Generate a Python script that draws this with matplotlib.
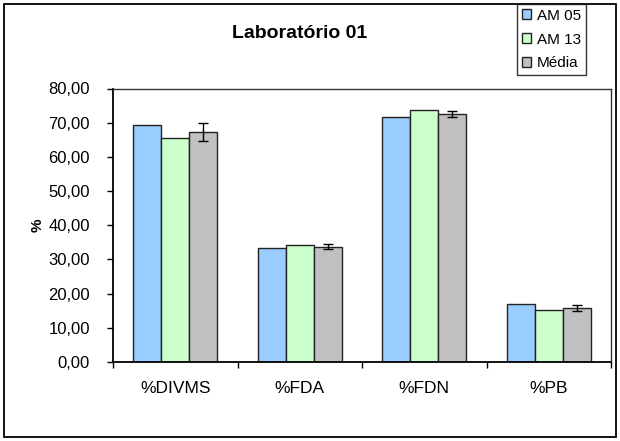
import numpy as np
import matplotlib
matplotlib.use("Agg")
import matplotlib.pyplot as plt
from matplotlib.ticker import FuncFormatter, MultipleLocator
from matplotlib.patches import Rectangle

plt.rcParams['font.family'] = ['Liberation Sans', 'DejaVu Sans']

# data
categories = ["%DIVMS", "%FDA", "%FDN", "%PB"]
am05 = [69.3, 33.2, 71.7, 16.9]
am13 = [65.5, 34.3, 73.7, 15.2]
media = [67.3, 33.7, 72.6, 15.8]
media_err = [2.65, 0.7, 0.95, 1.0]
series_names = ["AM 05", "AM 13", "Média"]
colors = ["#99CCFF", "#CCFFCC", "#C0C0C0"]

fig = plt.figure(figsize=(6.2, 4.41), dpi=100)
ax = fig.add_axes([113 / 620, 1 - 362 / 441, 498 / 620, (362 - 88.5) / 441])

x = np.arange(len(categories))
w = 0.225
for i, (vals, name, col) in enumerate(zip([am05, am13, media], series_names, colors)):
    err = media_err if i == 2 else None
    ax.bar(x + (i - 1) * w, vals, w, color=col, edgecolor="#222222", linewidth=1.0,
           label=name, yerr=err,
           error_kw=dict(ecolor="black", elinewidth=1.0, capsize=3.5, capthick=1.0))

ax.set_xlim(-0.5, len(categories) - 0.5)
ax.set_ylim(0, 80)
ax.yaxis.set_major_locator(MultipleLocator(10))
ax.yaxis.set_major_formatter(FuncFormatter(lambda v, p: f"{v:.2f}".replace(".", ",")))

# category ticks sit between groups, labels at the centers
ax.set_xticks(np.arange(len(categories) + 1) - 0.5)
ax.set_xticklabels([])
ax.set_xticks(x, minor=True)
ax.set_xticklabels(categories, minor=True)
ax.tick_params(axis="x", which="minor", length=0, pad=13.5, labelsize=12.5)
ax.tick_params(axis="x", which="major", length=4, width=1, direction="out")
ax.tick_params(axis="y", length=4.5, width=1, direction="out", pad=12, labelsize=12)

for s in ["left", "bottom"]:
    ax.spines[s].set_linewidth(1.3)
    ax.spines[s].set_color("black")
for s in ["top", "right"]:
    ax.spines[s].set_linewidth(1.0)
    ax.spines[s].set_color("#333333")

ax.set_ylabel("%", fontsize=11, fontweight="bold")
ax.yaxis.set_label_coords(-0.137, 0.5)

fig.text(0.484, 1 - 33 / 441, "Laboratório 01", ha="center", va="center",
         fontsize=14, fontweight="bold")

leg = fig.legend(loc="upper left", bbox_to_anchor=(517 / 620, 1 - 4 / 441),
                 frameon=True, fancybox=False, edgecolor="black", fontsize=11,
                 handlelength=0.6, handleheight=0.6, handletextpad=0.4,
                 labelspacing=0.65, borderpad=0.3, borderaxespad=0)
leg.get_frame().set_linewidth(1.0)

fig.patches.append(Rectangle((4 / 620, 4 / 441), 612 / 620, 433 / 441,
                             transform=fig.transFigure, fill=False,
                             edgecolor="black", linewidth=1.3))

fig.savefig("out.png", dpi=100)
